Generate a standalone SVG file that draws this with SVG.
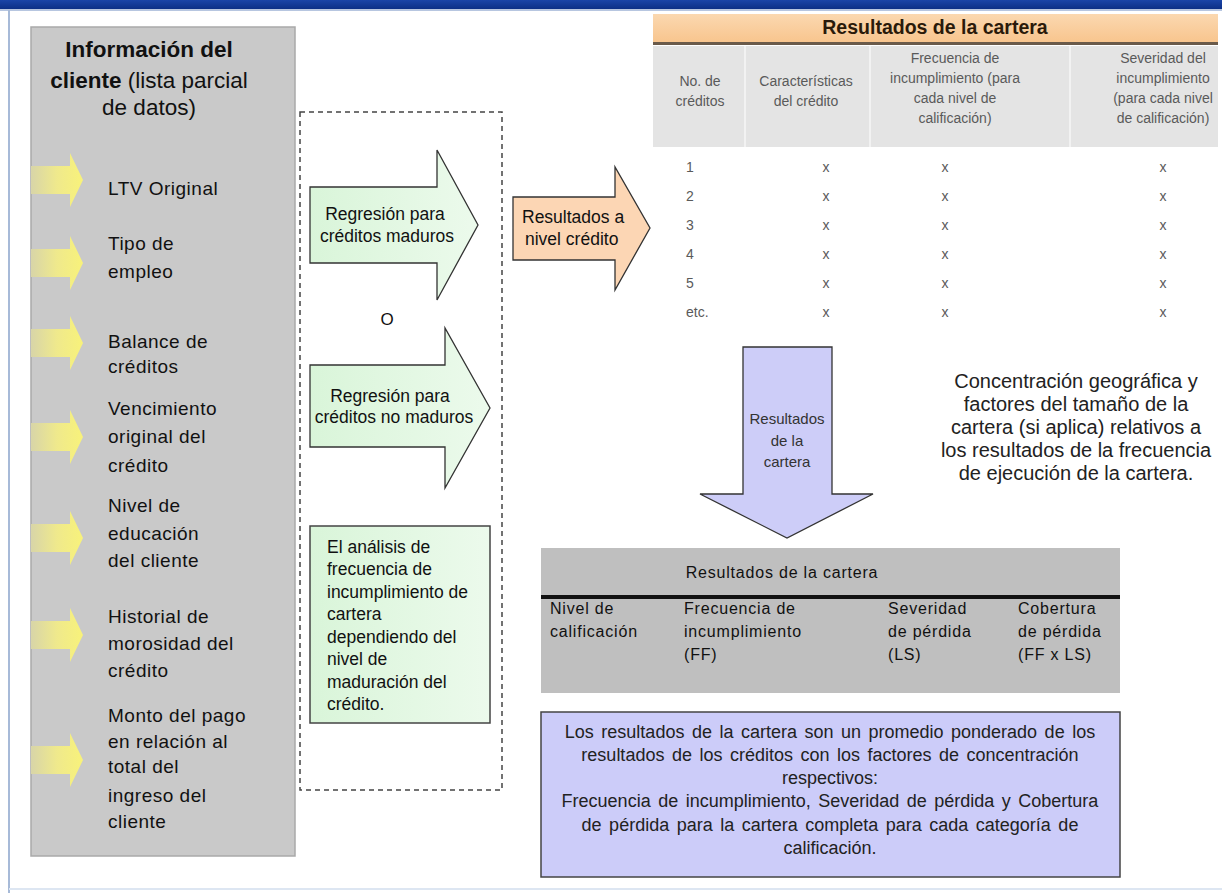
<svg xmlns="http://www.w3.org/2000/svg" width="1222" height="893" viewBox="0 0 1222 893">
<defs>
<linearGradient id="gY" x1="0" y1="0" x2="1" y2="0">
<stop offset="0" stop-color="#d8d5a8"/>
<stop offset="0.5" stop-color="#efe98c"/>
<stop offset="1" stop-color="#f8f27a"/>
</linearGradient>
<linearGradient id="gG" x1="0" y1="0" x2="1" y2="0">
<stop offset="0" stop-color="#d9f5d9"/>
<stop offset="1" stop-color="#ecfaec"/>
</linearGradient>
<linearGradient id="gO" x1="0" y1="0" x2="0" y2="1">
<stop offset="0" stop-color="#fbd8b0"/>
<stop offset="1" stop-color="#f8c58e"/>
</linearGradient>
<linearGradient id="gB" x1="0" y1="0" x2="0" y2="1">
<stop offset="0" stop-color="#1a45a8"/>
<stop offset="1" stop-color="#0c2f86"/>
</linearGradient>
</defs>
<style>
text{font-family:"Liberation Sans",Arial,sans-serif;fill:#111}
.l{font-size:19px;letter-spacing:0.5px}
.g{font-size:17.5px}
.s{font-size:14px;fill:#5a5a5a}
.sc{font-size:14px;fill:#5a5a5a;text-anchor:middle}
.c{text-anchor:middle}
.t{font-size:16px;letter-spacing:0.8px}
.p{font-size:18px;text-anchor:middle;fill:#222;word-spacing:2.5px}
.arrow{stroke:#333;stroke-width:1.3}
</style>
<rect width="1222" height="893" fill="#ffffff"/>
<rect x="0" y="0" width="1222" height="9" fill="url(#gB)"/>
<line x1="0" y1="10" x2="1222" y2="10" fill="none" stroke="#9fb3d6" stroke-width="1.5"/>
<line x1="9" y1="10" x2="9" y2="893" stroke="#a7bad8" stroke-width="2"/>
<line x1="9" y1="889" x2="1222" y2="889" stroke="#dde6f2" stroke-width="2"/>

<g id="client-info">
<rect x="31" y="27" width="264" height="829" fill="#c9c9c9" stroke="#a9a9a9" stroke-width="1.5"/>
<text x="149" y="57" class="c" style="font-size:22.5px;font-weight:bold">Información del</text>
<text x="149" y="88" class="c" style="font-size:22.5px"><tspan font-weight="bold">cliente</tspan> (lista parcial</text>
<text x="149" y="115" class="c" style="font-size:22.5px">de datos)</text>
<text x="108" y="195" class="l">LTV Original</text>
<text x="108" y="250" class="l">Tipo de</text>
<text x="108" y="278" class="l">empleo</text>
<text x="108" y="348" class="l">Balance de</text>
<text x="108" y="373" class="l">créditos</text>
<text x="108" y="415" class="l">Vencimiento</text>
<text x="108" y="443" class="l">original del</text>
<text x="108" y="472" class="l">crédito</text>
<text x="108" y="512" class="l">Nivel de</text>
<text x="108" y="540" class="l">educación</text>
<text x="108" y="567" class="l">del cliente</text>
<text x="108" y="623" class="l">Historial de</text>
<text x="108" y="650" class="l">morosidad del</text>
<text x="108" y="677" class="l">crédito</text>
<text x="108" y="722" class="l">Monto del pago</text>
<text x="108" y="748" class="l">en relación al</text>
<text x="108" y="773" class="l">total del</text>
<text x="108" y="802" class="l">ingreso del</text>
<text x="108" y="828" class="l">cliente</text>
</g>

<g id="connectors">
<polygon points="31,166 70,166 70,153 83,180 70,207 70,194 31,194" fill="url(#gY)"/>
<polygon points="31,249 70,249 70,236 83,263 70,290 70,277 31,277" fill="url(#gY)"/>
<polygon points="31,329 70,329 70,316 83,343 70,370 70,357 31,357" fill="url(#gY)"/>
<polygon points="31,423 70,423 70,410 83,437 70,464 70,451 31,451" fill="url(#gY)"/>
<polygon points="31,524 70,524 70,511 83,538 70,565 70,552 31,552" fill="url(#gY)"/>
<polygon points="31,621 70,621 70,608 83,635 70,662 70,649 31,649" fill="url(#gY)"/>
<polygon points="31,746 70,746 70,733 83,760 70,787 70,774 31,774" fill="url(#gY)"/>
</g>

<g id="regression-group">
<rect x="300" y="112" width="202" height="678" fill="none" stroke="#444" stroke-width="1.5" stroke-dasharray="5,4"/>
</g>

<g id="regression-mature">
<polygon class="arrow" points="310,187 437,187 437,150 478,225 437,300 437,263 310,263" fill="url(#gG)"/>
<text x="385" y="220" class="g c">Regresión para</text>
<text x="387" y="242" class="g c">créditos maduros</text>
</g>

<g id="or-label">
<text x="387" y="325" class="c" style="font-size:17px">O</text>
</g>

<g id="regression-immature">
<polygon class="arrow" points="310,365 445,365 445,328 490,408 445,488 445,447 310,447" fill="url(#gG)"/>
<text x="390" y="402" class="g c">Regresión para</text>
<text x="394" y="423" class="g c">créditos no maduros</text>
</g>

<g id="analysis-note">
<rect x="310" y="526" width="180" height="197" fill="url(#gG)" stroke="#444" stroke-width="1.5"/>
<text x="327" y="553" class="g">El análisis de</text>
<text x="327" y="575" class="g">frecuencia de</text>
<text x="327" y="598" class="g">incumplimiento de</text>
<text x="327" y="620" class="g">cartera</text>
<text x="327" y="643" class="g">dependiendo del</text>
<text x="327" y="665" class="g">nivel de</text>
<text x="327" y="688" class="g">maduración del</text>
<text x="327" y="710" class="g">crédito.</text>
</g>

<g id="loan-results">
<polygon class="arrow" points="513,197 615,197 615,167 650,228 615,290 615,260 513,260" fill="#fcd6b4"/>
<text x="522" y="223" class="g">Resultados a</text>
<text x="525" y="245" class="g">nivel crédito</text>
</g>

<g id="portfolio-table">
<rect x="653" y="14" width="565" height="28" fill="url(#gO)"/>
<rect x="653" y="42" width="565" height="3" fill="#6a5a4a"/>
<text x="935" y="34" class="c" style="font-size:19.5px;font-weight:bold;fill:#2a1a0a">Resultados de la cartera</text>
<rect x="653" y="46" width="565" height="101" fill="#e4e4e4"/>
<line x1="745" y1="46" x2="745" y2="147" stroke="#f2f2f2" stroke-width="2"/>
<line x1="870" y1="46" x2="870" y2="147" stroke="#f2f2f2" stroke-width="2"/>
<line x1="1070" y1="46" x2="1070" y2="147" stroke="#f2f2f2" stroke-width="2"/>
<text x="700" y="86" class="sc">No. de</text>
<text x="700" y="106" class="sc">créditos</text>
<text x="806" y="86" class="sc">Características</text>
<text x="806" y="106" class="sc">del crédito</text>
<text x="955" y="63" class="sc">Frecuencia de</text>
<text x="955" y="83" class="sc">incumplimiento (para</text>
<text x="955" y="103" class="sc">cada nivel de</text>
<text x="955" y="123" class="sc">calificación)</text>
<text x="1163" y="63" class="sc">Severidad del</text>
<text x="1163" y="83" class="sc">incumplimiento</text>
<text x="1163" y="103" class="sc">(para cada nivel</text>
<text x="1163" y="123" class="sc">de calificación)</text>
<text x="686" y="172" class="s">1</text>
<text x="686" y="201" class="s">2</text>
<text x="686" y="230" class="s">3</text>
<text x="686" y="259" class="s">4</text>
<text x="686" y="288" class="s">5</text>
<text x="686" y="317" class="s">etc.</text>
<text x="826" y="172" class="sc">x</text><text x="945" y="172" class="sc">x</text><text x="1163" y="172" class="sc">x</text>
<text x="826" y="201" class="sc">x</text><text x="945" y="201" class="sc">x</text><text x="1163" y="201" class="sc">x</text>
<text x="826" y="230" class="sc">x</text><text x="945" y="230" class="sc">x</text><text x="1163" y="230" class="sc">x</text>
<text x="826" y="259" class="sc">x</text><text x="945" y="259" class="sc">x</text><text x="1163" y="259" class="sc">x</text>
<text x="826" y="288" class="sc">x</text><text x="945" y="288" class="sc">x</text><text x="1163" y="288" class="sc">x</text>
<text x="826" y="317" class="sc">x</text><text x="945" y="317" class="sc">x</text><text x="1163" y="317" class="sc">x</text>
</g>

<g id="portfolio-results-arrow">
<polygon class="arrow" points="743,347 832,347 832,494 873,494 787,538 700,494 743,494" fill="#cdcdf8"/>
<text x="787" y="424" class="c" style="font-size:15px;fill:#333">Resultados</text>
<text x="787" y="446" class="c" style="font-size:15px;fill:#333">de la</text>
<text x="787" y="467" class="c" style="font-size:15px;fill:#333">cartera</text>
</g>

<g id="concentration-note">
<text x="1076" y="388" class="c" style="font-size:20px;fill:#222">Concentración geográfica y</text>
<text x="1076" y="411" class="c" style="font-size:20px;fill:#222">factores del tamaño de la</text>
<text x="1076" y="434" class="c" style="font-size:20px;fill:#222">cartera (si aplica) relativos a</text>
<text x="1076" y="457" class="c" style="font-size:20px;fill:#222">los resultados de la frecuencia</text>
<text x="1076" y="480" class="c" style="font-size:20px;fill:#222">de ejecución de la cartera.</text>
</g>

<g id="portfolio-summary-table">
<rect x="541" y="548" width="579" height="145" fill="#bfbfbf"/>
<text x="782" y="578" class="t c">Resultados de la cartera</text>
<rect x="541" y="595" width="579" height="4" fill="#111"/>
<text x="550" y="614" class="t">Nivel de</text>
<text x="550" y="637" class="t">calificación</text>
<text x="684" y="614" class="t">Frecuencia de</text>
<text x="684" y="637" class="t">incumplimiento</text>
<text x="684" y="660" class="t">(FF)</text>
<text x="888" y="614" class="t">Severidad</text>
<text x="888" y="637" class="t">de pérdida</text>
<text x="888" y="660" class="t">(LS)</text>
<text x="1018" y="614" class="t">Cobertura</text>
<text x="1018" y="637" class="t">de pérdida</text>
<text x="1018" y="660" class="t">(FF x LS)</text>
</g>

<g id="portfolio-summary-note">
<rect x="541" y="712" width="579" height="165" fill="#ccccf9" stroke="#444" stroke-width="1.5"/>
<text x="830" y="738" class="p">Los resultados de la cartera son un promedio ponderado de los</text>
<text x="830" y="761" class="p">resultados de los créditos con los factores de concentración</text>
<text x="830" y="784" class="p">respectivos:</text>
<text x="830" y="807" class="p">Frecuencia de incumplimiento, Severidad de pérdida y Cobertura</text>
<text x="830" y="831" class="p">de pérdida para la cartera completa para cada categoría de</text>
<text x="830" y="854" class="p">calificación.</text>
</g>
</svg>
